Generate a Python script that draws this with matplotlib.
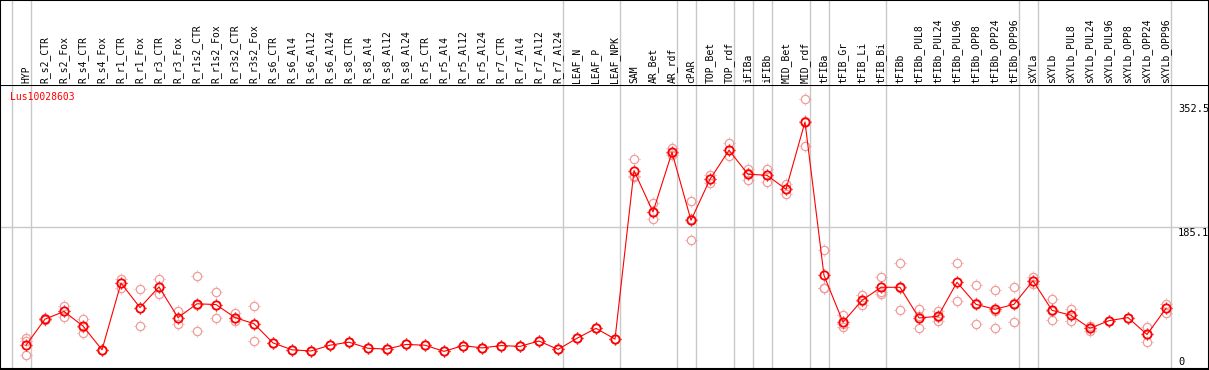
import numpy as np
import matplotlib
matplotlib.use("Agg")
import matplotlib.pyplot as plt
from matplotlib.path import Path
from matplotlib import transforms

# data
gene = "Lus10028603"

samples = [
    "HYP",
    "R_s2_CTR", "R_s2_Fox", "R_s4_CTR", "R_s4_Fox", "R_r1_CTR", "R_r1_Fox",
    "R_r3_CTR", "R_r3_Fox", "R_r1s2_CTR", "R_r1s2_Fox", "R_r3s2_CTR", "R_r3s2_Fox",
    "R_s6_CTR", "R_s6_Al4", "R_s6_Al12", "R_s6_Al24", "R_s8_CTR", "R_s8_Al4",
    "R_s8_Al12", "R_s8_Al24", "R_r5_CTR", "R_r5_Al4", "R_r5_Al12", "R_r5_Al24",
    "R_r7_CTR", "R_r7_Al4", "R_r7_Al12", "R_r7_Al24",
    "LEAF_N", "LEAF_P", "LEAF_NPK",
    "SAM", "AR_Bet", "AR_rdf",
    "cPAR",
    "TOP_Bet", "TOP_rdf",
    "iFIBa",
    "iFIBb",
    "MID_Bet", "MID_rdf",
    "tFIBa",
    "tFIB_Gr", "tFIB_Li", "tFIB_Bi",
    "tFIBb", "tFIBb_PUL8", "tFIBb_PUL24", "tFIBb_PUL96", "tFIBb_OPP8",
    "tFIBb_OPP24", "tFIBb_OPP96",
    "sXYLa",
    "sXYLb", "sXYLb_PUL8", "sXYLb_PUL24", "sXYLb_PUL96", "sXYLb_OPP8",
    "sXYLb_OPP24", "sXYLb_OPP96",
]

# sizes of the tissue groups (separated by grey lines)
group_sizes = [1, 28, 3, 3, 1, 2, 1, 1, 2, 1, 3, 7, 1, 7]

mean_vals = [
    31,
    65, 75, 56, 25, 112, 80, 107, 67, 85, 84, 67, 59,
    34, 25, 23.5, 31, 35, 27, 26, 32, 31, 23, 30.5, 27.5, 30.5, 29.5, 36.5, 25.5,
    40, 53, 39,
    258.5, 204.6, 282.4,
    193.8,
    247.3, 285.1,
    253.8,
    252.5,
    234.2, 322,
    122,
    61, 89.5, 106.5,
    106.5, 66.5, 68.7, 113, 84.3, 77.8, 84.3,
    115,
    76.5, 70, 53, 63, 67, 45, 79,
]

rep_hi = [
    41,
    66, 82, 65, 25, 117, 104, 117, 76, 121, 101, 73, 82,
    34, 25, 23.5, 31, 35, 27, 26, 32, 31, 23, 30.5, 27.5, 30.5, 29.5, 36.5, 25.5,
    40, 53, 39,
    274, 216, 288,
    219,
    253, 294,
    261,
    261,
    241, 352.5,
    155,
    70, 96, 120,
    138, 78, 75, 138, 109, 103, 107,
    120,
    91, 78, 56, 63, 67, 55, 85,
]

rep_mid = [
    37,
    65, 75, 55, 25, 112, 79, 107, 67, 84, 84, 67, 58,
    34, 25, 23.5, 31, 35, 27, 26, 32, 31, 23, 30.5, 27.5, 30.5, 29.5, 36.5, 25.5,
    40, 53, 39,
    252, 204, 281,
    195,
    247, 285,
    255,
    253,
    234, 323,
    106,
    59, 89, 101,
    105, 69, 68, 113, 86, 76, 86,
    115,
    75, 70, 54, 63, 67, 46, 80,
]

rep_lo = [
    18,
    64, 68, 47, 25, 106, 56, 98, 59, 50, 66, 63, 36,
    34, 25, 23.5, 31, 35, 27, 26, 32, 31, 23, 30.5, 27.5, 30.5, 29.5, 36.5, 25.5,
    40, 53, 39,
    250, 195, 279,
    168,
    242, 277,
    246,
    244,
    228, 290,
    105,
    55, 84, 98,
    77, 53, 63, 88, 58, 54, 61,
    111,
    64, 62, 49, 63, 67, 35, 73,
]

W, H = 1209, 370
FONT = "DejaVu Sans Mono"
FS = 7

# four short ticks around the circle markers
segs = []
for a in [0, np.pi / 2, np.pi, 3 * np.pi / 2]:
    segs.append(Path([(0.78 * np.cos(a), 0.78 * np.sin(a)), (np.cos(a), np.sin(a))],
                     [Path.MOVETO, Path.LINETO]))
tick_marks = Path.make_compound_path(*segs)

x = np.arange(len(samples))
xlim = (-26 / 19, (W - 26) / 19)

fig = plt.figure(figsize=(W / 100, H / 100), dpi=100)
ax = fig.add_axes([0, 1 / H, 1, 284 / H])
axh = fig.add_axes([0, 285 / H, 1, 85 / H])

all_reps = rep_hi + rep_mid + rep_lo + mean_vals
top = max(all_reps)
ymax = top * 1.05
ax.set_xlim(*xlim)
ax.set_ylim(0, ymax)
axh.set_xlim(*xlim)
axh.set_ylim(0, 1)

for a in (ax, axh):
    a.set_xticks([])
    a.set_yticks([])
    for s in a.spines.values():
        s.set_color("black")
        s.set_linewidth(1.5)
axh.spines["bottom"].set_visible(False)

# group separators
bounds = -0.75 + np.cumsum([0] + group_sizes)
for b in bounds:
    ax.axvline(b, color="#c8c8c8", lw=1.0, zorder=0)
    axh.axvline(b, color="#c8c8c8", lw=1.0, zorder=0)

ax.axhline(ymax / 2, color="#c8c8c8", lw=1.0, zorder=0)

# replicates
for reps in (rep_hi, rep_mid, rep_lo):
    ax.plot(x, reps, linestyle="none", marker="o", markersize=6,
            markerfacecolor="none", markeredgecolor="#f09c9c", markeredgewidth=0.9,
            zorder=2)
    ax.plot(x, reps, linestyle="none", marker=tick_marks, markersize=8.5,
            markeredgecolor="#f09c9c", markeredgewidth=0.8, zorder=2)

# mean line
ax.plot(x, mean_vals, color="#ff0000", lw=0.8, marker="o", markersize=6,
        markerfacecolor="none", markeredgecolor="#ff0000", markeredgewidth=1.3,
        zorder=3)
ax.plot(x, mean_vals, linestyle="none", marker=tick_marks, markersize=8.5,
        markeredgecolor="#ff0000", markeredgewidth=0.9, zorder=3)

# sample labels
lab_tr = transforms.offset_copy(axh.transData, fig=fig, x=0, y=2, units="dots")
for xi, name in zip(x, samples):
    axh.text(xi, 0, name, rotation=90, ha="center", va="bottom",
             fontsize=FS, family=FONT, transform=lab_tr)

# gene name
ax.text(10 / W, 1 - 12 / 284, gene, color="#ff0000", fontsize=FS, family=FONT,
        ha="left", va="center", transform=ax.transAxes)

# value labels on the right
bl = transforms.blended_transform_factory(ax.transAxes, ax.transData)
xl = 1178 / W
ax.text(xl, top, f"{top:.1f}", fontsize=FS + 0.5, family=FONT, ha="left", va="top",
        transform=transforms.offset_copy(bl, fig=fig, x=0, y=-5, units="dots"))
ax.text(xl, ymax / 2, f"{ymax / 2:.1f}", fontsize=FS + 0.5, family=FONT, ha="left", va="top",
        transform=transforms.offset_copy(bl, fig=fig, x=0, y=-1, units="dots"))
ax.text(xl, 0, "0", fontsize=FS + 0.5, family=FONT, ha="left", va="baseline",
        transform=transforms.offset_copy(bl, fig=fig, x=0, y=4, units="dots"))

fig.savefig("out.png", dpi=100)
